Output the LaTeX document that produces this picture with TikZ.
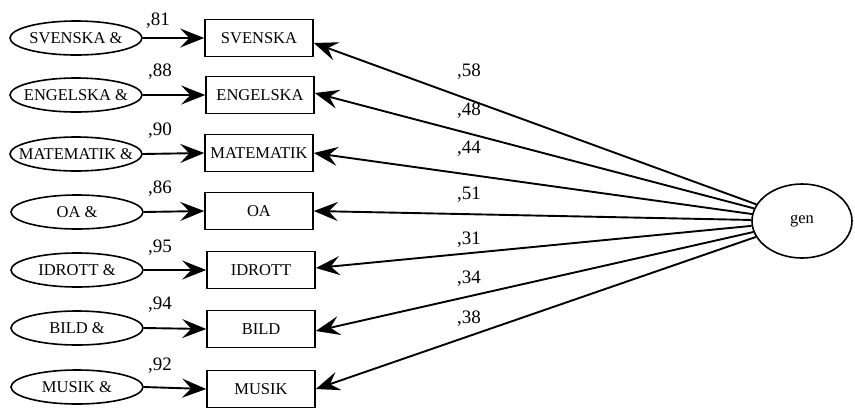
\documentclass[tikz,border=0pt]{standalone}
\usepackage{fontspec}
\setmainfont{Liberation Serif}
\usetikzlibrary{arrows.meta,shapes.geometric}
\begin{document}
\begin{tikzpicture}[x=1pt,y=-1pt,
  every node/.style={font=\fontsize{16.5}{19}\selectfont},
  err/.style={draw, ellipse, line width=1.6pt, minimum width=132pt, minimum height=34pt, inner sep=0pt},
  obs/.style={draw, rectangle, line width=1.6pt, minimum width=108pt, minimum height=37pt, inner sep=0pt},
  lat/.style={draw, ellipse, line width=1.6pt, minimum width=100pt, minimum height=74pt, inner sep=0pt},
  arr/.style={line width=1.9pt, -{Stealth[length=24pt,width=19pt,inset=9pt]}},
  coef/.style={font=\fontsize{19}{22}\selectfont, inner sep=0pt}]
\useasboundingbox (0,0) rectangle (855,408);

% error ellipses
\node[err, label={center:SVENSKA \&}]   (e1) at (76,38)  {};
\node[err, label={center:ENGELSKA \&}]  (e2) at (76,95)  {};
\node[err, label={center:MATEMATIK \&}] (e3) at (76,154) {};
\node[err, label={center:OA \&}]        (e4) at (77,212) {};
\node[err, label={center:IDROTT \&}]    (e5) at (77,270) {};
\node[err, label={center:BILD \&}]      (e6) at (77,328) {};
\node[err, label={center:MUSIK \&}]     (e7) at (77,387) {};

% observed variables
\node[obs] (o1) at (259,38)  {SVENSKA};
\node[obs] (o2) at (260,95)  {ENGELSKA};
\node[obs] (o3) at (259,153) {MATEMATIK};
\node[obs] (o4) at (259,211) {OA};
\node[obs] (o5) at (261,270) {IDROTT};
\node[obs] (o6) at (261,329) {BILD};
\node[obs] (o7) at (261,389) {MUSIK};

% latent
\node[lat] (gen) at (802,221) {gen};

% error arrows
\draw[arr] (e1.east) -- (o1.west);
\draw[arr] (e2.east) -- (o2.west);
\draw[arr] (e3.east) -- (o3.west);
\draw[arr] (e4.east) -- (o4.west);
\draw[arr] (e5.east) -- (o5.west);
\draw[arr] (e6.east) -- (o6.west);
\draw[arr] (e7.east) -- (o7.west);

% loadings
\draw[arr] (gen) -- ([yshift=-5pt]o1.east);
\draw[arr] (gen) -- ([yshift=2pt]o2.east);
\draw[arr] (gen) -- (o3.east);
\draw[arr] (gen) -- (o4.east);
\draw[arr] (gen) -- ([yshift=2pt]o5.east);
\draw[arr] (gen) -- ([yshift=-2pt]o6.east);
\draw[arr] (gen) -- (o7.east);

% error coefficients
\node[coef] (c1) at (158,21)  {,81};
\node[coef] (c2) at (160,72)  {,88};
\node[coef] (c3) at (160,131) {,90};
\node[coef] (c4) at (160,189) {,86};
\node[coef] (c5) at (160,248) {,95};
\node[coef] (c6) at (160,305) {,94};
\node[coef] (c7) at (160,366) {,92};

% loading coefficients
\node[coef] (l1) at (469,72)  {,58};
\node[coef] (l2) at (469,111) {,48};
\node[coef] (l3) at (469,149) {,44};
\node[coef] (l4) at (469,195) {,51};
\node[coef] (l5) at (469,240) {,31};
\node[coef] (l6) at (469,279) {,34};
\node[coef] (l7) at (469,319) {,38};
\end{tikzpicture}
\end{document}
